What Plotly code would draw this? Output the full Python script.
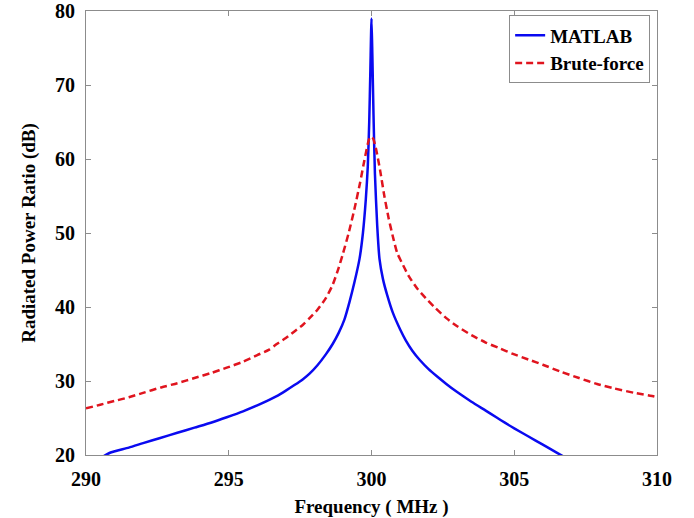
import plotly.graph_objects as go

# MATLAB curve (frequency in MHz, radiated power ratio in dB)
matlab_freq = [290.6, 290.84, 291.5, 292.0, 292.6, 293.2, 293.8, 294.4, 294.93, 295.5,
               296.0, 296.4, 296.68, 297.0, 297.3, 297.6, 297.83, 298.1, 298.4, 298.64,
               298.85, 299.05, 299.23, 299.4, 299.58, 299.7, 299.8, 299.87, 299.92, 299.96,
               300.0,
               300.03, 300.07, 300.12, 300.2, 300.28, 300.4, 300.55, 300.75, 301.0, 301.2,
               301.43, 301.7, 302.0, 302.3, 302.62, 303.0, 303.5, 304.0, 304.37, 304.7,
               305.0, 305.5, 306.0, 306.47, 306.7]
matlab_db = [19.8, 20.3, 21.0, 21.6, 22.3, 23.0, 23.7, 24.4, 25.1, 25.9,
             26.7, 27.4, 27.95, 28.7, 29.45, 30.25, 31.0, 32.1, 33.6, 35.0,
             36.5, 38.3, 40.7, 43.3, 46.5, 50.0, 54.5, 59.0, 65.0, 72.0,
             79.0,
             74.0, 66.0, 58.0, 51.0, 46.5, 43.8, 41.6, 39.2, 37.0, 35.5,
             34.1, 32.8, 31.6, 30.6, 29.6, 28.5, 27.2, 26.0, 25.1, 24.3,
             23.6, 22.5, 21.4, 20.35, 19.85]

# Brute-force curve
brute_freq = [290.0, 290.5, 291.0, 291.5, 292.0, 292.6, 293.2, 293.8, 294.4, 294.93,
              295.5, 296.0, 296.4, 296.68, 297.0, 297.3, 297.6, 297.83, 298.1, 298.4,
              298.64, 298.85, 299.0, 299.2, 299.4, 299.6, 299.75, 299.88, 299.95,
              300.05, 300.15, 300.3, 300.45, 300.6, 300.75, 300.9, 301.05, 301.3, 301.6,
              301.9, 302.2, 302.62, 303.0, 303.5, 304.0, 304.5, 304.93, 305.5, 306.0,
              306.6, 307.27, 307.9, 308.5, 309.2, 309.9, 310.0]
brute_db = [26.3, 26.8, 27.3, 27.8, 28.4, 29.1, 29.7, 30.4, 31.1, 31.8,
            32.6, 33.5, 34.2, 35.0, 35.8, 36.7, 37.6, 38.5, 39.6, 41.2,
            43.0, 45.3, 47.2, 50.0, 53.2, 56.8, 59.8, 62.2, 63.0,
            62.8, 61.5, 58.5, 55.0, 52.0, 49.5, 47.3, 46.1, 44.2, 42.5,
            41.2, 40.0, 38.5, 37.4, 36.2, 35.2, 34.4, 33.7, 32.9, 32.2,
            31.3, 30.4, 29.6, 29.0, 28.4, 27.9, 27.8]

x_ticks = [290, 295, 300, 305, 310]
y_ticks = [20, 30, 40, 50, 60, 70, 80]

font_family = "Liberation Serif, Times New Roman, serif"

fig = go.Figure()
fig.add_trace(go.Scatter(x=matlab_freq, y=matlab_db, mode="lines", name="MATLAB",
                         line=dict(color="#0a0af0", width=2.5, shape="spline", smoothing=0.6)))
fig.add_trace(go.Scatter(x=brute_freq, y=brute_db, mode="lines", name="Brute-force",
                         line=dict(color="#e0141e", width=2.5, dash="7px,4px",
                                   shape="spline", smoothing=0.6)))

axis_common = dict(showline=True, linecolor="#8c8c8c", linewidth=1.2, mirror="ticks",
                   ticks="inside", ticklen=5, tickcolor="#8c8c8c", showgrid=False,
                   zeroline=False, ticklabeloverflow="allow", automargin=False,
                   tickfont=dict(family=font_family, size=20, color="black", weight="bold"))

fig.update_xaxes(range=[290, 310], tickvals=x_ticks, ticklabelstandoff=6,
                 title=dict(text="Frequency ( MHz )", standoff=12,
                            font=dict(family=font_family, size=19, color="black", weight="bold")),
                 **axis_common)
fig.update_yaxes(range=[20, 80], tickvals=y_ticks, ticklabelstandoff=6,
                 title=dict(text="Radiated Power Ratio (dB)", standoff=14,
                            font=dict(family=font_family, size=19, color="black", weight="bold")),
                 **axis_common)

fig.update_layout(
    width=694, height=518,
    margin=dict(l=86, r=37, t=11, b=63),
    plot_bgcolor="white", paper_bgcolor="white",
    showlegend=True,
    legend=dict(x=0.988, y=0.99, xanchor="right", yanchor="top",
                bgcolor="white", bordercolor="#8c8c8c", borderwidth=1,
                font=dict(family=font_family, size=19, color="black", weight="bold"),
                tracegroupgap=0),
)

fig.write_html("out.html")
